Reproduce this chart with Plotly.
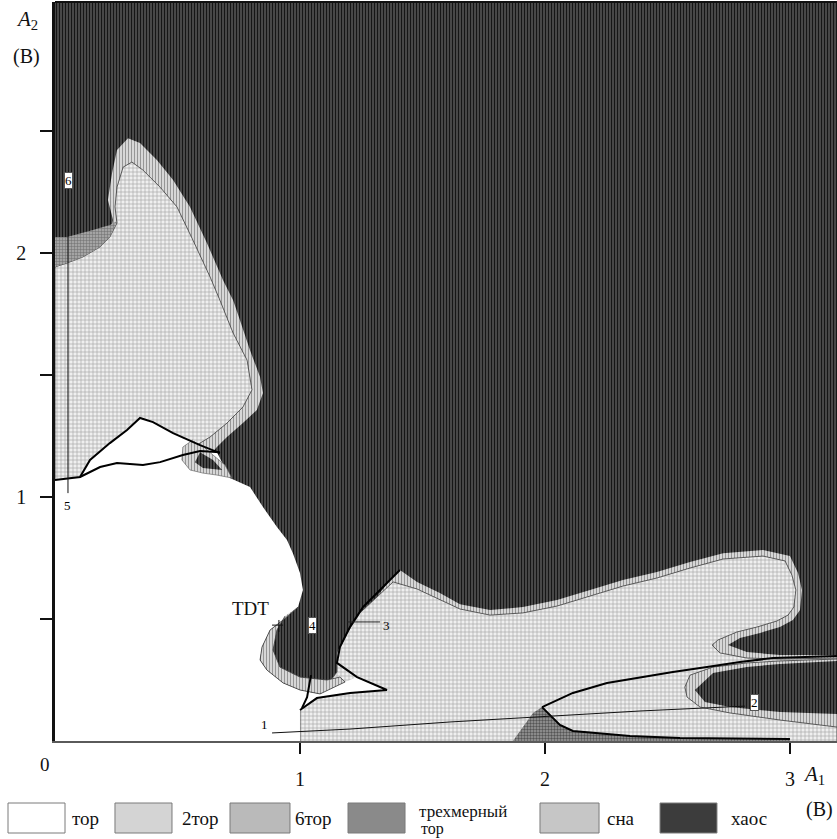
import plotly.graph_objects as go

# ---------------- data (A1, A2 in volts) ----------------
X_MAX = 3.192
Y_MAX = 3.029

# upper-left lobe: outer edge of "сна" band
ul_cha_x = [0, 0, 0.049, 0.114, 0.184, 0.224, 0.237, 0.216, 0.233, 0.253, 0.298, 0.347, 0.416, 0.482, 0.551, 0.620, 0.686, 0.727, 0.755, 0.796, 0.837, 0.849, 0.824, 0.767, 0.702, 0.661, 0.633, 0.388]
ul_cha_y = [1.029, 1.943, 1.959, 1.984, 2.025, 2.066, 2.135, 2.217, 2.328, 2.422, 2.471, 2.451, 2.381, 2.299, 2.189, 2.041, 1.889, 1.807, 1.725, 1.602, 1.492, 1.426, 1.357, 1.303, 1.246, 1.205, 1.172, 1.111]
# upper-left lobe: 2-torus
ul_2tor_x = [0, 0, 0.049, 0.114, 0.184, 0.224, 0.253, 0.245, 0.253, 0.278, 0.314, 0.359, 0.429, 0.498, 0.563, 0.633, 0.673, 0.727, 0.784, 0.804, 0.767, 0.702, 0.633, 0.592, 0.388]
ul_2tor_y = [1.029, 1.943, 1.959, 1.984, 2.025, 2.066, 2.123, 2.189, 2.270, 2.352, 2.373, 2.340, 2.270, 2.189, 2.053, 1.902, 1.807, 1.672, 1.561, 1.439, 1.369, 1.303, 1.246, 1.221, 1.111]
# small patch near A2 = 2
ul_6_x = [0, 0.049, 0.155, 0.224, 0.253, 0.224, 0.184, 0.114, 0.049, 0]
ul_6_y = [2.066, 2.066, 2.094, 2.115, 2.131, 2.066, 2.025, 1.984, 1.959, 1.943]

# lower lobe: outer edge of "сна" band
lo_cha_x = [1.000, 1.000, 1.082, 1.151, 1.151, 1.192, 1.245, 1.314, 1.367, 1.408, 1.478, 1.571, 1.653, 1.776, 1.910, 2.049, 2.184, 2.318, 2.457, 2.592, 2.727, 2.890, 3.000, 3.033, 3.049, 3.041, 3.012, 2.959, 2.878, 2.796, 2.747, 2.824, 2.959, 3.192, 3.192, 2.959, 2.824, 2.686, 2.612, 2.653, 2.755, 2.959, 3.192, 3.192]
lo_cha_y = [0, 0.148, 0.189, 0.283, 0.361, 0.443, 0.525, 0.590, 0.660, 0.701, 0.652, 0.607, 0.561, 0.537, 0.549, 0.578, 0.619, 0.660, 0.693, 0.734, 0.770, 0.783, 0.758, 0.689, 0.619, 0.537, 0.496, 0.467, 0.443, 0.422, 0.393, 0.365, 0.352, 0.352, 0.328, 0.316, 0.303, 0.279, 0.209, 0.160, 0.139, 0.119, 0.111, 0]
# lower lobe: 2-torus
lo_2tor_x = [1.000, 1.000, 1.082, 1.151, 1.151, 1.192, 1.245, 1.314, 1.380, 1.478, 1.571, 1.653, 1.776, 1.910, 2.049, 2.184, 2.318, 2.457, 2.592, 2.727, 2.890, 2.980, 3.008, 3.024, 3.016, 2.992, 2.947, 2.865, 2.784, 2.706, 2.682, 2.714, 2.824, 2.959, 3.192, 3.192, 2.959, 2.824, 2.686, 2.592, 2.571, 2.580, 2.633, 2.755, 2.959, 3.192, 3.192]
lo_2tor_y = [0, 0.148, 0.189, 0.283, 0.361, 0.443, 0.525, 0.590, 0.652, 0.623, 0.578, 0.541, 0.516, 0.525, 0.553, 0.594, 0.635, 0.668, 0.709, 0.746, 0.758, 0.738, 0.680, 0.619, 0.549, 0.516, 0.492, 0.467, 0.447, 0.414, 0.393, 0.361, 0.340, 0.336, 0.340, 0.336, 0.328, 0.320, 0.303, 0.270, 0.221, 0.180, 0.139, 0.115, 0.086, 0.057, 0]

# torus region (white)
tor_x = [0, 0, 0.061, 0.102, 0.143, 0.224, 0.294, 0.347, 0.400, 0.482, 0.592, 0.661, 0.714, 0.796, 0.849, 0.906, 0.947, 0.971, 1.000, 1.012, 0.992, 0.931, 0.878, 0.845, 0.837, 0.865, 0.931, 1.000, 1.082, 1.184, 1.233, 1.355, 1.204, 1.069, 1.000, 1.000]
tor_y = [0, 1.070, 1.078, 1.086, 1.152, 1.221, 1.275, 1.324, 1.307, 1.262, 1.213, 1.184, 1.078, 1.041, 0.959, 0.877, 0.824, 0.770, 0.689, 0.619, 0.549, 0.496, 0.455, 0.385, 0.332, 0.291, 0.238, 0.209, 0.193, 0.242, 0.262, 0.209, 0.197, 0.176, 0.127, 0]

# small "сна" blob near A1 = 0.6, A2 = 1.15
blob_x = [0.563, 0.522, 0.518, 0.551, 0.604, 0.661, 0.722, 0.694, 0.645, 0.612]
blob_y = [1.234, 1.205, 1.152, 1.111, 1.098, 1.090, 1.078, 1.131, 1.172, 1.201]
blob_chaos_x = [0.592, 0.571, 0.604, 0.682, 0.645]
blob_chaos_y = [1.184, 1.143, 1.119, 1.111, 1.152]

# "сна" ring round the TDT chaos pocket
tdt_x = [0.992, 0.931, 0.878, 0.845, 0.837, 0.865, 0.931, 1.000, 1.082, 1.184, 1.163, 1.110, 1.000, 0.918, 0.890, 0.906, 0.939]
tdt_y = [0.549, 0.496, 0.455, 0.385, 0.332, 0.291, 0.238, 0.209, 0.193, 0.242, 0.262, 0.250, 0.262, 0.303, 0.373, 0.455, 0.512]

# three-dimensional torus
t3_x = [1.869, 1.910, 1.951, 1.988, 2.029, 2.061, 2.114, 2.212, 2.347, 2.551, 2.878, 3.000, 3.000]
t3_y = [0, 0.057, 0.115, 0.139, 0.098, 0.066, 0.041, 0.033, 0.020, 0.012, 0.008, 0.008, 0]

# bifurcation curves
c_up_x = [0, 0.061, 0.102, 0.143, 0.224, 0.294, 0.347, 0.400, 0.482, 0.592, 0.673]
c_up_y = [1.070, 1.078, 1.082, 1.152, 1.221, 1.275, 1.324, 1.307, 1.262, 1.213, 1.180]
c_lo_x = [0.102, 0.184, 0.253, 0.359, 0.429, 0.522, 0.592, 0.673]
c_lo_y = [1.082, 1.123, 1.139, 1.131, 1.143, 1.172, 1.189, 1.184]
c3_x = [1.408, 1.327, 1.257, 1.204, 1.163, 1.151, 1.233, 1.355, 1.204, 1.069, 1.000]
c3_y = [0.701, 0.619, 0.549, 0.467, 0.385, 0.320, 0.262, 0.209, 0.197, 0.176, 0.127]
c4_thin_x = [1.045, 1.045]
c4_thin_y = [0.447, 0.270]
c4_x = [1.045, 1.029, 1.008]
c4_y = [0.270, 0.180, 0.135]
c_br_x = [1.988, 2.114, 2.253, 2.388, 2.522, 2.661, 2.796, 2.931, 3.192]
c_br_y = [0.139, 0.197, 0.238, 0.262, 0.283, 0.303, 0.324, 0.340, 0.348]
c_t3_x = [1.988, 2.029, 2.061, 2.114, 2.212, 2.347, 2.551, 2.878, 3.000]
c_t3_y = [0.139, 0.098, 0.066, 0.041, 0.033, 0.020, 0.012, 0.008, 0.008]
c1_x = [0.886, 1.204, 1.612, 2.000, 2.388, 2.816]
c1_y = [0.033, 0.049, 0.078, 0.102, 0.123, 0.143]
c5_x = [0.053, 0.053]
c5_y = [2.270, 1.016]
c3_lead_x = [1.192, 1.327]
c3_lead_y = [0.488, 0.488]
tdt_lead_x = [0.886, 0.931]
tdt_lead_y = [0.475, 0.475]
tdt_tick_x = [0.914, 0.914]
tdt_tick_y = [0.496, 0.447]

# curve labels: (text, A1, A2, boxed)
curve_labels = [("6", 0.057, 2.299, True), ("5", 0.053, 0.967, False),
                ("4", 1.053, 0.475, True), ("3", 1.355, 0.475, False),
                ("2", 2.857, 0.156, True), ("1", 0.857, 0.066, False)]
tdt_label = ("TDT", 0.796, 0.545)

x_tickvals = [1, 2, 3]
x_ticktext = ["1", "2", "3"]
y_tickvals = [1, 2]
y_ticktext = ["1", "2"]
y_minor_tickvals = [0.5, 1.5, 2.5]

legend_names = ["тор", "2тор", "6тор", "трехмерный", "сна", "хаос"]
legend_second_line = "тор"

# ---------------- styles ----------------
SERIF = "Liberation Serif, Times New Roman, serif"
PAT_CHAOS = dict(shape="|", bgcolor="#686868", fgcolor="#161616", size=3, solidity=0.6, fillmode="replace")
PAT_CHA = dict(shape="|", bgcolor="#dedede", fgcolor="#969696", size=3, solidity=0.4, fillmode="replace")
PAT_2TOR = dict(shape="+", bgcolor="#efefef", fgcolor="#a6a6a6", size=4, solidity=0.3, fillmode="replace")
PAT_6 = dict(shape="+", bgcolor="#a4a4a4", fgcolor="#6e6e6e", size=3, solidity=0.3, fillmode="replace")
PAT_3TOR = dict(shape=".", bgcolor="#9c9c9c", fgcolor="#555555", size=3, solidity=0.5, fillmode="replace")

fig = go.Figure()


def region(x, y, color, pattern=None, lw=0, lc="#333333"):
    tr = go.Scatter(x=x, y=y, mode="lines", fill="toself", fillcolor=color,
                    line=dict(width=lw, color=lc if lw else color),
                    hoverinfo="skip", showlegend=False)
    if pattern is not None:
        tr.fillpattern = pattern
    fig.add_trace(tr)


def curve(x, y, w=2, c="#000000"):
    fig.add_trace(go.Scatter(x=x, y=y, mode="lines", line=dict(width=w, color=c),
                             hoverinfo="skip", showlegend=False))


region([0, X_MAX, X_MAX, 0], [0, 0, Y_MAX, Y_MAX], "#444444", PAT_CHAOS)
region(ul_cha_x, ul_cha_y, "#c4c4c4", PAT_CHA)
region(ul_2tor_x, ul_2tor_y, "#d6d6d6", PAT_2TOR, lw=0.8, lc="#3a3a3a")
region(ul_6_x, ul_6_y, "#8e8e8e", PAT_6)
region(lo_cha_x, lo_cha_y, "#c4c4c4", PAT_CHA)
region(lo_2tor_x, lo_2tor_y, "#d6d6d6", PAT_2TOR, lw=0.8, lc="#3a3a3a")
region(tor_x, tor_y, "#ffffff")
region(blob_x, blob_y, "#c4c4c4", PAT_CHA, lw=0.6, lc="#555555")
region(blob_chaos_x, blob_chaos_y, "#444444", PAT_CHAOS)
region(tdt_x, tdt_y, "#c4c4c4", PAT_CHA, lw=0.8, lc="#3a3a3a")
region(t3_x, t3_y, "#8a8a8a", PAT_3TOR)

curve(c_up_x, c_up_y, 2)
curve(c_lo_x, c_lo_y, 2)
curve(c3_x, c3_y, 2)
curve(c4_thin_x, c4_thin_y, 1, "#222222")
curve(c4_x, c4_y, 2)
curve(c_br_x, c_br_y, 2)
curve(c_t3_x, c_t3_y, 2)
curve(c1_x, c1_y, 1, "#111111")
curve(c5_x, c5_y, 1, "#111111")
curve(c3_lead_x, c3_lead_y, 1, "#222222")
curve(tdt_lead_x, tdt_lead_y, 1, "#111111")
curve(tdt_tick_x, tdt_tick_y, 1, "#111111")

annotations = []
for txt, ax_, ay_, boxed in curve_labels:
    annotations.append(dict(x=ax_, y=ay_, xref="x", yref="y", text=txt, showarrow=False,
                            xanchor="center", yanchor="middle",
                            font=dict(family=SERIF, size=13, color="#000000"),
                            bgcolor="#ffffff" if boxed else None,
                            bordercolor="#555555" if boxed else None,
                            borderwidth=1 if boxed else 0, borderpad=0))
annotations.append(dict(x=tdt_label[1], y=tdt_label[2], xref="x", yref="y", text=tdt_label[0],
                        showarrow=False, xanchor="center", yanchor="middle",
                        font=dict(family=SERIF, size=19, color="#111111")))

# axis titles and origin label (paper coords)
annotations += [
    dict(x=-0.036, y=0.975, text="<i>A</i><sub>2</sub>", font=dict(family=SERIF, size=21, color="#111111")),
    dict(x=-0.036, y=0.926, text="(B)", font=dict(family=SERIF, size=20, color="#111111")),
    dict(x=0.970, y=-0.046, text="<i>A</i><sub>1</sub>", font=dict(family=SERIF, size=21, color="#111111")),
    dict(x=0.977, y=-0.093, text="(B)", font=dict(family=SERIF, size=20, color="#111111")),
    dict(x=-0.013, y=-0.032, text="0", font=dict(family=SERIF, size=19, color="#111111")),
]
for a in annotations[-5:]:
    a.update(xref="paper", yref="paper", showarrow=False, xanchor="center", yanchor="middle")

# legend (paper coords)
sw_x0 = [-0.0601, 0.0767, 0.2238, 0.3747, 0.6202, 0.7737]
sw_x1 = [0.0128, 0.1496, 0.3005, 0.4476, 0.6957, 0.8465]
sw_col = ["#ffffff", "#d4d4d4", "#bababa", "#8a8a8a", "#c6c6c6", "#3c3c3c"]
txt_x = [0.0192, 0.1598, 0.3043, 0.4629, 0.7033, 0.8619]
shapes = []
for i, name in enumerate(legend_names):
    shapes.append(dict(type="rect", xref="paper", yref="paper", x0=sw_x0[i], x1=sw_x1[i],
                       y0=-0.1245, y1=-0.0839, fillcolor=sw_col[i],
                       line=dict(color="#7a7a7a", width=1)))
    annotations.append(dict(x=txt_x[i], y=-0.1042 if i != 3 else -0.0958, xref="paper", yref="paper",
                            text=name, showarrow=False, xanchor="left", yanchor="middle", align="left",
                            font=dict(family=SERIF, size=19 if i != 3 else 17, color="#111111")))
annotations.append(dict(x=0.4655, y=-0.1185, xref="paper", yref="paper", text=legend_second_line,
                        showarrow=False, xanchor="left", yanchor="middle",
                        font=dict(family=SERIF, size=16, color="#111111")))
# top border
shapes.append(dict(type="line", xref="paper", yref="paper", x0=0, x1=1, y0=1, y1=1,
                   line=dict(color="#111111", width=2)))

fig.update_layout(
    width=837, height=839,
    margin=dict(l=55, r=0, t=2, b=98),
    paper_bgcolor="#ffffff", plot_bgcolor="#ffffff",
    showlegend=False,
    annotations=annotations, shapes=shapes,
    xaxis=dict(range=[0, X_MAX], tickvals=x_tickvals, ticktext=x_ticktext,
               ticks="outside", ticklen=11, tickwidth=1.5, tickcolor="#111111",
               showline=True, linecolor="#5a5a5a", linewidth=2, showgrid=False, zeroline=False,
               tickfont=dict(family=SERIF, size=20, color="#111111"), ticklabelstandoff=8),
    yaxis=dict(range=[0, Y_MAX], tickvals=y_tickvals, ticktext=y_ticktext,
               ticks="outside", ticklen=12, tickwidth=1.5, tickcolor="#111111",
               minor=dict(tickvals=y_minor_tickvals, ticks="outside", ticklen=12, tickwidth=1.5,
                          tickcolor="#111111", showgrid=False),
               showline=True, linecolor="#111111", linewidth=2.5, showgrid=False, zeroline=False,
               tickfont=dict(family=SERIF, size=20, color="#111111"), ticklabelstandoff=10),
)

fig.write_html("out.html", config={"displayModeBar": False},
               post_script="document.body.style.margin='0';")
